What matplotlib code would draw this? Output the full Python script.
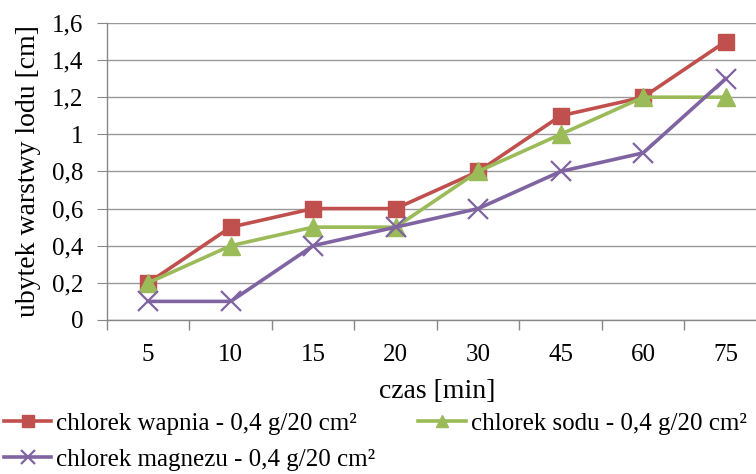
import matplotlib.pyplot as plt
from matplotlib.ticker import FixedLocator, FuncFormatter

plt.rcParams['font.family'] = 'serif'
plt.rcParams['font.serif'] = ['Liberation Serif', 'DejaVu Serif']

czas = ['5', '10', '15', '20', '30', '45', '60', '75']
wapnia = [0.2, 0.5, 0.6, 0.6, 0.8, 1.1, 1.2, 1.5]
sodu = [0.2, 0.4, 0.5, 0.5, 0.8, 1.0, 1.2, 1.2]
magnezu = [0.1, 0.1, 0.4, 0.5, 0.6, 0.8, 0.9, 1.3]
labels = ['chlorek wapnia - 0,4 g/20 cm²', 'chlorek sodu - 0,4 g/20 cm²',
          'chlorek magnezu - 0,4 g/20 cm²']

fig = plt.figure(figsize=(7.56, 4.74), dpi=100)
ax = fig.add_axes([0.1415, 0.325, 0.873, 0.6266])

x = range(len(czas))
l1, = ax.plot(x, wapnia, color='#C0504D', lw=2.6, marker='s', ms=12, zorder=3)
l2, = ax.plot(x, sodu, color='#9BBB59', lw=2.6, marker='^', ms=13, zorder=4)
l3, = ax.plot(x, magnezu, color='#8064A2', lw=2.6, marker='x', ms=14, mew=1.6, zorder=5)

ax.set_xlim(-0.5, len(czas) - 0.5)
ax.set_ylim(0, 1.6)
ax.set_yticks([i * 0.2 for i in range(9)])
ax.yaxis.set_major_formatter(FuncFormatter(
    lambda v, p: '0' if v == 0 else ('1' if abs(v - 1) < 1e-9 else f'{v:.1f}'.replace('.', ','))))
ax.set_xticks(list(x))
ax.set_xticklabels(czas)
ax.xaxis.set_minor_locator(FixedLocator([i - 0.5 for i in range(len(czas) + 1)]))
ax.tick_params(axis='x', which='major', length=0, labelsize=18, pad=17)
ax.tick_params(axis='x', which='minor', length=7, color='#888888', width=1)
ax.tick_params(axis='y', length=7, color='#888888', labelsize=18, pad=10)

ax.grid(axis='y', color='#999999', lw=1)
ax.set_axisbelow(True)
for s in ['top', 'right']:
    ax.spines[s].set_visible(False)
for s in ['left', 'bottom']:
    ax.spines[s].set_color('#888888')
    ax.spines[s].set_linewidth(1)

ax.set_ylabel('ubytek warstwy lodu [cm]', fontsize=20, labelpad=8)
ax.set_xlabel('czas [min]', fontsize=20, labelpad=10)

# legend rows: wapnia, sodu / magnezu (matplotlib fills by column)
fig.legend([l1, l3, l2], [labels[0], labels[2], labels[1]], loc='upper left',
           bbox_to_anchor=(0.005, 0.13), ncol=2, frameon=False,
           prop={'family': 'serif', 'size': 18}, handlelength=1.9, handletextpad=0.2,
           columnspacing=1.7, borderaxespad=0, borderpad=0, labelspacing=0.55,
           markerscale=0.7)

fig.savefig('out.png', dpi=100)
